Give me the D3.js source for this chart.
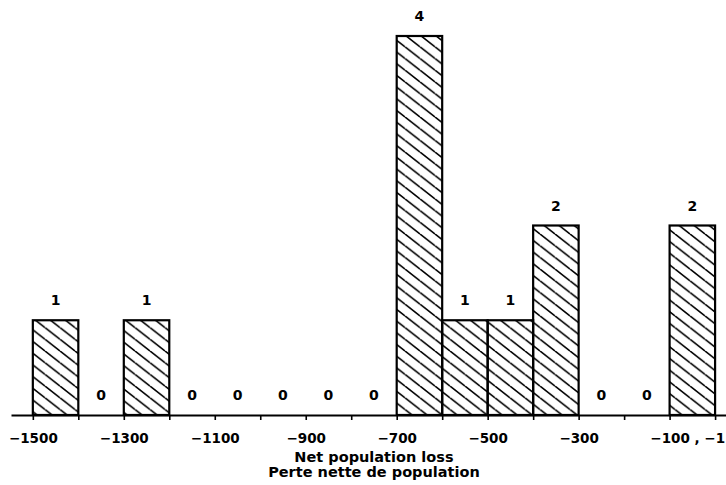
<!DOCTYPE html>
<html>
<head>
<meta charset="utf-8">
<script src="https://cdn.jsdelivr.net/npm/d3@7"></script>
<style>
  body { margin: 0; background: #fff; }
  svg { display: block; }
  text { font-family: "DejaVu Sans", sans-serif; font-weight: bold; fill: #000; }
</style>
</head>
<body>
<div id="chart"></div>
<script>
// Histogram of net population loss, bins of 100
const binStarts = [-1500, -1400, -1300, -1200, -1100, -1000, -900, -800, -700, -600, -500, -400, -300, -200, -100];
const counts    = [1, 0, 1, 0, 0, 0, 0, 0, 4, 1, 1, 2, 0, 0, 2];
const binWidth = 100;
const tickValues = d3.range(-1500, 1, 100);
const labelTicks = [-1500, -1300, -1100, -900, -700, -500, -300, -100];
const titleLines = ['Net population loss', 'Perte nette de population'];

const width = 726, height = 485;

const svg = d3.select('#chart').append('svg')
    .attr('width', width)
    .attr('height', height);

const x = d3.scaleLinear().domain([-1548, 24]).range([11, 726]);
const y = d3.scaleLinear().domain([0, 4]).range([415, 36]);

// hatch pattern, lines running top-left to bottom-right
const defs = svg.append('defs');
defs.append('pattern')
    .attr('id', 'hatch')
    .attr('patternUnits', 'userSpaceOnUse')
    .attr('width', 15)
    .attr('height', 11.7)
  .append('path')
    .attr('d', 'M0,0 L15,11.7 M-15,0 L0,11.7 M0,-11.7 L15,0')
    .attr('stroke', '#000')
    .attr('stroke-width', 1.6);

const bins = binStarts.map((s, i) => ({ x0: s, x1: s + binWidth, n: counts[i] }));

svg.selectAll('.bar')
    .data(bins.filter(d => d.n > 0))
    .enter()
    .append('rect')
    .attr('class', 'bar')
    .attr('x', d => x(d.x0))
    .attr('y', d => y(d.n))
    .attr('width', d => x(d.x1) - x(d.x0))
    .attr('height', d => y(0) - y(d.n))
    .attr('fill', 'url(#hatch)')
    .attr('stroke', '#000')
    .attr('stroke-width', 2.2);

// count labels
svg.selectAll('.count')
    .data(bins)
    .enter()
    .append('text')
    .attr('class', 'count')
    .attr('x', d => x((d.x0 + d.x1) / 2))
    .attr('y', d => y(d.n) - 15)
    .attr('text-anchor', 'middle')
    .style('font-size', '14px')
    .text(d => d.n);

// axis
const axis = d3.axisBottom(x)
    .tickValues(tickValues)
    .tickSize(5)
    .tickSizeOuter(0)
    .tickFormat(d => labelTicks.includes(d) ? '\u2212' + Math.abs(d) : '');

const gx = svg.append('g')
    .attr('transform', `translate(0,${y(0)})`)
    .call(axis);

gx.select('.domain').attr('stroke-width', 2.2);
gx.selectAll('.tick line').attr('stroke-width', 1.6);
gx.selectAll('.tick text')
    .attr('y', 18)
    .style('font-size', '13.5px')
    .style('font-family', '"DejaVu Sans", sans-serif')
    .style('font-weight', 'bold');

// last label reads "-100 , -1" with -100 centred on its tick
gx.selectAll('.tick text')
    .filter(d => d === -100)
    .each(function () {
        const t = d3.select(this);
        const w = this.getComputedTextLength();
        t.attr('text-anchor', 'start')
         .attr('x', -w / 2)
         .text('\u2212100 , \u22121');
    });

svg.selectAll('.title')
    .data(titleLines)
    .enter()
    .append('text')
    .attr('class', 'title')
    .attr('x', x(-750))
    .attr('y', (d, i) => 461.5 + i * 15.5)
    .attr('text-anchor', 'middle')
    .style('font-size', '14.5px')
    .text(d => d);
</script>
</body>
</html>
